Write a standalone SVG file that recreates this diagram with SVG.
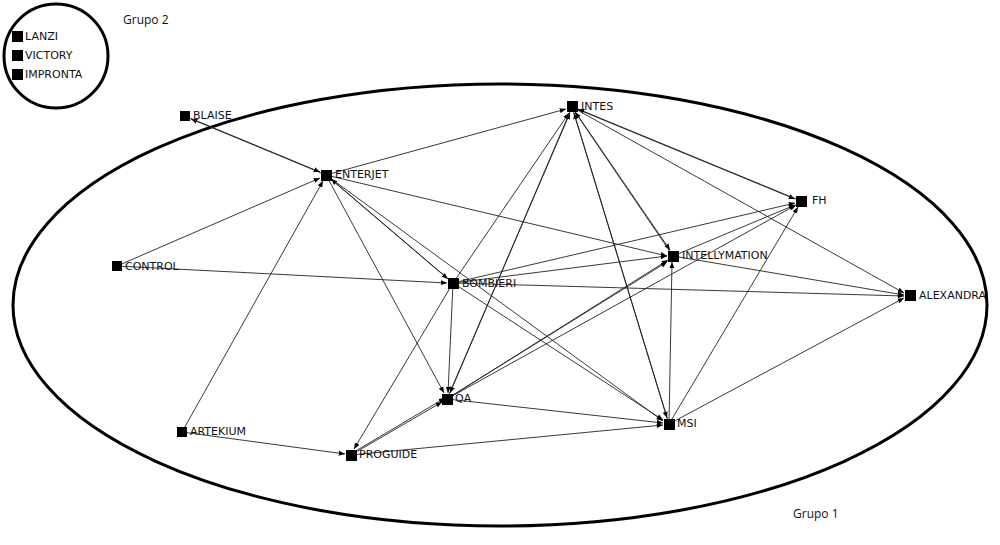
<svg xmlns="http://www.w3.org/2000/svg" width="1000" height="545" viewBox="0 0 1000 545">
<style>
text{font-family:"DejaVu Sans",sans-serif;font-size:11px;fill:#111}
.g{font-family:"Open Sans",sans-serif;font-size:12px}
.e line{stroke:#222;stroke-width:0.9;marker-end:url(#a)}
.n rect{fill:#000}
</style>
<defs><marker id="a" viewBox="0 0 10 10" refX="10" refY="5" markerWidth="7" markerHeight="7" orient="auto-start-reverse"><path d="M0,1L10,5L0,9z" fill="#000"/></marker></defs>
<rect width="1000" height="545" fill="#fff"/>
<ellipse cx="500" cy="305" rx="487" ry="221" fill="none" stroke="#000" stroke-width="3"/>
<circle cx="56" cy="56" r="52" fill="none" stroke="#000" stroke-width="3"/>
<text class="g" x="123" y="24">Grupo 2</text>
<text class="g" x="793" y="518">Grupo 1</text>
<g class="e">
<line x1="326" y1="175" x2="191" y2="119"/>
<line x1="185" y1="116" x2="320" y2="172"/>
<line x1="117" y1="266" x2="320" y2="178"/>
<line x1="117" y1="266" x2="447" y2="283"/>
<line x1="326" y1="175" x2="566" y2="109"/>
<line x1="326" y1="175" x2="667" y2="256"/>
<line x1="182" y1="432" x2="323" y2="181"/>
<line x1="326" y1="175" x2="444" y2="393"/>
<line x1="326" y1="175" x2="448" y2="279"/>
<line x1="453" y1="283" x2="331" y2="179"/>
<line x1="326" y1="175" x2="663" y2="421"/>
<line x1="453" y1="283" x2="569" y2="113"/>
<line x1="453" y1="283" x2="667" y2="256"/>
<line x1="453" y1="283" x2="795" y2="203"/>
<line x1="453" y1="283" x2="904" y2="296"/>
<line x1="453" y1="283" x2="448" y2="393"/>
<line x1="453" y1="283" x2="354" y2="449"/>
<line x1="453" y1="283" x2="663" y2="420"/>
<line x1="447" y1="399" x2="570" y2="113"/>
<line x1="572" y1="107" x2="450" y2="393"/>
<line x1="447" y1="399" x2="668" y2="260"/>
<line x1="453" y1="395" x2="667" y2="262"/>
<line x1="447" y1="399" x2="796" y2="205"/>
<line x1="447" y1="399" x2="663" y2="423"/>
<line x1="351" y1="455" x2="442" y2="402"/>
<line x1="354" y1="452" x2="445" y2="398"/>
<line x1="351" y1="455" x2="663" y2="425"/>
<line x1="182" y1="432" x2="345" y2="454"/>
<line x1="669" y1="424" x2="574" y2="113"/>
<line x1="572" y1="107" x2="667" y2="418"/>
<line x1="572" y1="107" x2="670" y2="250"/>
<line x1="673" y1="256" x2="575" y2="112"/>
<line x1="572" y1="107" x2="795" y2="199"/>
<line x1="801" y1="201" x2="578" y2="109"/>
<line x1="572" y1="107" x2="904" y2="293"/>
<line x1="673" y1="256" x2="795" y2="205"/>
<line x1="673" y1="256" x2="904" y2="295"/>
<line x1="669" y1="424" x2="672" y2="262"/>
<line x1="669" y1="424" x2="798" y2="207"/>
<line x1="669" y1="424" x2="904" y2="298"/>
</g>
<g class="n" id="n-lanzi"><rect x="12" y="31" width="11" height="11"/><text x="25" y="40">LANZI</text></g>
<g class="n" id="n-victory"><rect x="12" y="50" width="11" height="11"/><text x="25" y="59">VICTORY</text></g>
<g class="n" id="n-impronta"><rect x="12" y="69" width="11" height="11"/><text x="25" y="78">IMPRONTA</text></g>
<g class="n" id="n-blaise"><rect x="180" y="111" width="10" height="10"/><text x="193" y="119">BLAISE</text></g>
<g class="n" id="n-enterjet"><rect x="321" y="170" width="11" height="11"/><text x="335" y="178">ENTERJET</text></g>
<g class="n" id="n-control"><rect x="112" y="261" width="10" height="10"/><text x="125" y="270">CONTROL</text></g>
<g class="n" id="n-bombieri"><rect x="448" y="278" width="11" height="11"/><text x="462" y="287">BOMBIERI</text></g>
<g class="n" id="n-intes"><rect x="567" y="101" width="11" height="11"/><text x="581" y="110">INTES</text></g>
<g class="n" id="n-fh"><rect x="796" y="196" width="11" height="11"/><text x="812" y="204">FH</text></g>
<g class="n" id="n-intellymation"><rect x="668" y="251" width="11" height="11"/><text x="682" y="259">INTELLYMATION</text></g>
<g class="n" id="n-alexandra"><rect x="905" y="290" width="11" height="11"/><text x="919" y="299">ALEXANDRA</text></g>
<g class="n" id="n-qa"><rect x="442" y="394" width="11" height="11"/><text x="455" y="402">QA</text></g>
<g class="n" id="n-artekium"><rect x="177" y="427" width="10" height="10"/><text x="190" y="435">ARTEKIUM</text></g>
<g class="n" id="n-proguide"><rect x="346" y="450" width="11" height="11"/><text x="359" y="458">PROGUIDE</text></g>
<g class="n" id="n-msi"><rect x="664" y="419" width="11" height="11"/><text x="677" y="427">MSI</text></g>
</svg>
